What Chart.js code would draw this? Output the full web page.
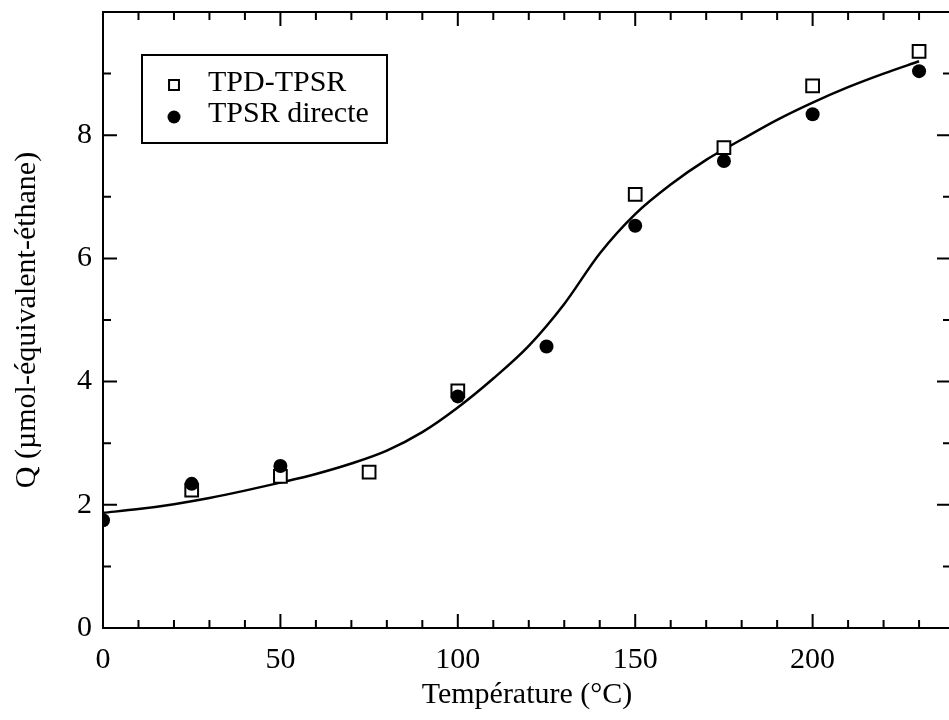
<!DOCTYPE html>
<html>
<head>
<meta charset="utf-8">
<title>Q vs Température</title>
<script src="https://cdn.jsdelivr.net/npm/chart.js@4/dist/chart.umd.min.js"></script>
<style>
    html, body { margin: 0; padding: 0; background: #fff; overflow: hidden; }
    #chart { display: block; }
</style>
</head>
<body>
<canvas id="chart" width="951" height="720"></canvas>
<script>
// temperatures (°C) and Q values
const tpdT = [25, 50, 75, 100, 150, 175, 200, 230];
const tpdQ = [2.24, 2.46, 2.53, 3.85, 7.04, 7.80, 8.80, 9.36];

const directT = [0, 25, 50, 100, 125, 150, 175, 200, 230];
const directQ = [1.75, 2.34, 2.63, 3.76, 4.57, 6.53, 7.58, 8.34, 9.04];

// fitted curve, read every 10 °C
const fitT = [0, 10, 20, 30, 40, 50, 60, 70, 80, 90, 100, 110, 120, 130, 140, 150, 160, 170, 180, 190, 200, 210, 220, 230];
const fitQ = [1.87, 1.93, 2.01, 2.11, 2.23, 2.36, 2.50, 2.67, 2.88, 3.18, 3.58, 4.05, 4.58, 5.26, 6.08, 6.72, 7.20, 7.60, 7.93, 8.25, 8.53, 8.78, 9.00, 9.20];

const xTicks = [0, 50, 100, 150, 200];
const yTicks = [0, 2, 4, 6, 8];

const serif = "'Liberation Serif', 'Times New Roman', serif";

function points(xs, ys) {
    return xs.map((x, i) => ({ x: x, y: ys[i] }));
}

// frame with inward ticks on all four sides
const frameTicks = {
    id: 'frameTicks',
    afterDatasetsDraw(chart) {
        const ctx = chart.ctx;
        const a = chart.chartArea;
        const xs = chart.scales.x;
        const ys = chart.scales.y;
        ctx.save();
        ctx.strokeStyle = '#000';
        ctx.lineWidth = 2;
        ctx.strokeRect(a.left, a.top, a.right - a.left, a.bottom - a.top);
        ctx.beginPath();
        for (let v = 10; v < xs.max; v += 10) {
            const len = v % 50 === 0 ? 14 : 8;
            const px = xs.getPixelForValue(v);
            ctx.moveTo(px, a.bottom);
            ctx.lineTo(px, a.bottom - len);
            ctx.moveTo(px, a.top);
            ctx.lineTo(px, a.top + len);
        }
        for (let v = 1; v < ys.max; v += 1) {
            const len = v % 2 === 0 ? 14 : 8;
            const py = ys.getPixelForValue(v);
            ctx.moveTo(a.left, py);
            ctx.lineTo(a.left + len, py);
            ctx.moveTo(a.right, py);
            ctx.lineTo(a.right - len, py);
        }
        ctx.stroke();
        ctx.restore();
    }
};

// boxed legend inside the plot, top left
const boxLegend = {
    id: 'boxLegend',
    afterDraw(chart) {
        const ctx = chart.ctx;
        ctx.save();
        ctx.fillStyle = '#fff';
        ctx.fillRect(142, 55, 245, 88);
        ctx.strokeStyle = '#000';
        ctx.lineWidth = 2;
        ctx.strokeRect(142, 55, 245, 88);

        Chart.helpers.drawPoint(ctx, {
            pointStyle: 'rect', radius: 7, borderWidth: 2
        }, 174, 85);
        ctx.fillStyle = '#000';
        ctx.beginPath();
        ctx.arc(174, 117, 6.5, 0, Math.PI * 2);
        ctx.fill();

        ctx.fillStyle = '#000';
        ctx.font = '30px ' + serif;
        ctx.textAlign = 'left';
        ctx.textBaseline = 'middle';
        ctx.fillText('TPD-TPSR', 208, 83);
        ctx.fillText('TPSR directe', 208, 114);
        ctx.restore();
    }
};

const ctx = document.getElementById('chart').getContext('2d');

new Chart(ctx, {
    type: 'scatter',
    data: {
        datasets: [
            {
                label: 'TPSR directe',
                data: points(directT, directQ),
                pointStyle: 'circle',
                pointRadius: 7,
                pointBackgroundColor: '#000',
                pointBorderColor: '#000',
                pointBorderWidth: 0,
                order: 0
            },
            {
                label: 'TPD-TPSR',
                data: points(tpdT, tpdQ),
                pointStyle: 'rect',
                pointRadius: 9,
                pointBackgroundColor: '#fff',
                pointBorderColor: '#000',
                pointBorderWidth: 2,
                order: 1
            },
            {
                label: 'fit',
                data: points(fitT, fitQ),
                showLine: true,
                cubicInterpolationMode: 'monotone',
                borderColor: '#000',
                borderWidth: 2.5,
                pointRadius: 0,
                order: 2
            }
        ]
    },
    options: {
        responsive: false,
        maintainAspectRatio: false,
        animation: false,
        devicePixelRatio: 1,
        layout: { autoPadding: false, padding: { top: 12, right: 0, left: 0, bottom: 0 } },
        plugins: {
            legend: { display: false },
            tooltip: { enabled: false }
        },
        scales: {
            x: {
                type: 'linear',
                min: 0,
                max: 239,
                grid: { display: false, drawTicks: false },
                border: { display: false },
                afterBuildTicks: s => { s.ticks = xTicks.map(v => ({ value: v })); },
                afterFit: s => { s.height = 92; s.paddingLeft = 0; s.paddingRight = 0; },
                ticks: {
                    color: '#000',
                    padding: 14,
                    maxRotation: 0,
                    font: { family: serif, size: 30 }
                },
                title: {
                    display: true,
                    text: 'Température (°C)',
                    color: '#000',
                    padding: { top: 7, bottom: 7 },
                    font: { family: serif, size: 30 }
                }
            },
            y: {
                type: 'linear',
                min: 0,
                max: 10,
                grid: { display: false, drawTicks: false },
                border: { display: false },
                afterBuildTicks: s => { s.ticks = yTicks.map(v => ({ value: v })); },
                afterFit: s => { s.width = 103; s.paddingTop = 0; s.paddingBottom = 0; },
                ticks: {
                    color: '#000',
                    padding: 11,
                    font: { family: serif, size: 30 }
                },
                title: {
                    display: true,
                    text: 'Q (µmol-équivalent-éthane)',
                    color: '#000',
                    padding: { top: 9, bottom: 9 },
                    font: { family: serif, size: 30 }
                }
            }
        }
    },
    plugins: [frameTicks, boxLegend]
});
</script>
</body>
</html>
